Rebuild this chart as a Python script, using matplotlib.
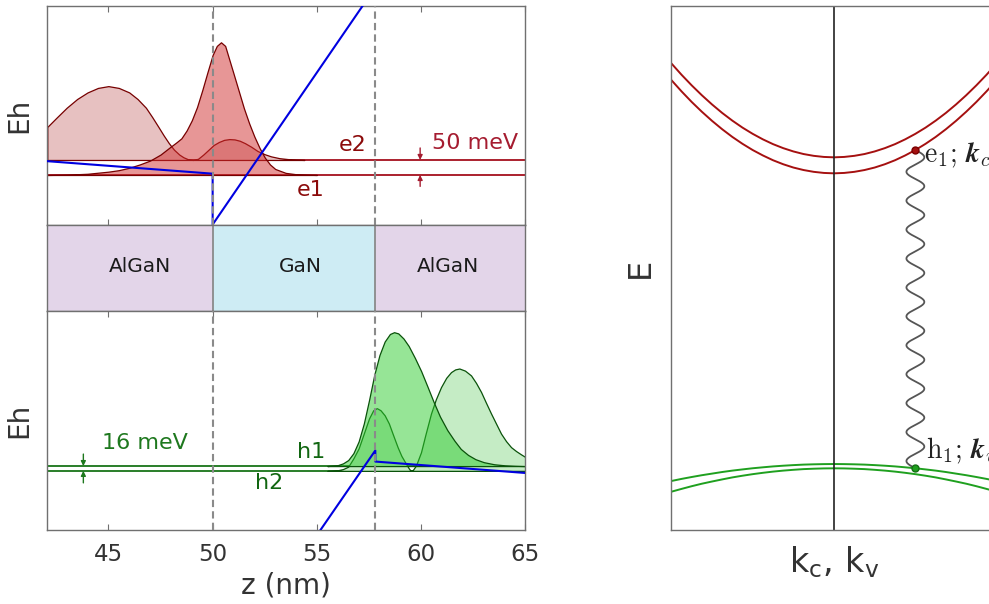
import numpy as np
import matplotlib.pyplot as plt

# --- layer structure (nm) ---
z_min, z_max = 42.07, 65.0
well_left, well_right = 50.0, 57.8
layer_names = ['AlGaN', 'GaN', 'AlGaN']
layer_label_z = [46.5, 54.2, 61.3]

# --- electrons (meV, e1 level = 0) ---
e1_level, e2_level = 0, 50
e1_z = [42.07, 43.0, 44.0, 45.0, 45.5, 46.0, 46.5, 47.0, 47.5, 48.0, 48.25, 48.5, 48.75,
        49.0, 49.25, 49.5, 49.75, 50.0, 50.2, 50.4, 50.6, 50.8, 51.0, 51.25, 51.5,
        51.75, 52.0, 52.25, 52.5, 52.75, 53.0, 53.5, 54.0, 54.5, 55.0]
e1_psi = [0, 1, 4, 11, 16, 24, 35, 48, 68, 95, 108, 122, 148,
          182, 226, 282, 342, 400, 430, 442, 430, 384, 338, 280, 222,
          172, 128, 90, 58, 35, 20, 7, 2.5, 1, 0]
e2_z = [42.07, 42.5, 43.0, 43.5, 44.0, 44.5, 45.0, 45.5, 46.0, 46.4, 46.8, 47.1, 47.4,
        47.65, 47.9, 48.15, 48.4, 48.6, 48.8, 49.06, 49.3, 49.55, 49.8, 50.05, 50.3,
        50.55, 50.8, 51.05, 51.3, 51.55, 51.85, 52.15, 52.5, 52.8, 53.2, 53.6, 54.0, 54.4]
e2_psi = [110, 140, 174, 203, 225, 240, 246, 240, 225, 203, 174, 143, 110,
          82, 56, 34, 18, 9, 3, 0, 4, 18, 34, 50, 60,
          67, 69.5, 68.5, 64, 56, 44, 30, 19, 12, 6, 3, 1, 0]
cb_z = [42.07, 50.0, 50.0, 57.8, 57.8, 65.0]
cb_E = [46, 4.3, -165, 625, 900, 860]

# --- holes (meV, h1 level = 0) ---
h1_level, h2_level = 0, -16
h1_z = [55.5, 56.0, 56.25, 56.5, 56.75, 57.0, 57.25, 57.5, 57.75, 58.0, 58.25, 58.5,
        58.7, 58.9, 59.15, 59.4, 59.7, 60.0, 60.3, 60.6, 60.9, 61.25, 61.6, 61.9,
        62.25, 62.6, 63.0, 63.5, 64.0, 64.5, 65.0]
h1_psi = [0, 3, 9, 20, 43, 82, 142, 220, 304, 370, 415, 440,
          446, 442, 425, 400, 360, 316, 265, 213, 165, 120, 84, 57,
          37, 23, 13, 6, 2.5, 1, 0]
h2_z = [55.5, 56.0, 56.25, 56.5, 56.75, 57.0, 57.25, 57.5, 57.7, 57.87, 58.05, 58.25,
        58.45, 58.65, 58.87, 59.05, 59.26, 59.4, 59.5, 59.6, 59.75, 59.99, 60.2, 60.47,
        60.7, 60.95, 61.2, 61.43, 61.63, 61.83, 62.1, 62.39, 62.63, 62.87, 63.1, 63.35,
        63.6, 63.83, 64.07, 64.31, 64.55, 64.79, 65.0]
h2_psi = [0, 2, 6, 14, 42, 75, 125, 175, 202, 209, 202, 185,
          158, 120, 79, 50, 25, 9, 0, 3, 18, 62, 120, 191,
          238, 279, 310, 329, 338, 341, 334, 318, 293, 263, 228, 191,
          156, 124, 99, 79, 66, 55, 46]
vb_z = [42.07, 50.0, 50.0, 57.8, 57.8, 65.0]
vb_E = [-1000, -1040, -734, 52, 15, -23]

# --- dispersion (arb. units) ---
k_vals = [-1, -0.9375, -0.875, -0.8125, -0.75, -0.6875, -0.625, -0.5625, -0.5,
          -0.4375, -0.375, -0.3125, -0.25, -0.1875, -0.125, -0.0625, 0,
          0.0625, 0.125, 0.1875, 0.25, 0.3125, 0.375, 0.4375, 0.5,
          0.5625, 0.625, 0.6875, 0.75, 0.8125, 0.875, 0.9375, 1]
c2_E = [466.7, 455.3, 444.7, 434.8, 425.6, 417.1, 409.4, 402.4, 396.2,
        390.7, 385.9, 381.9, 378.6, 376.0, 374.2, 373.1, 372.7,
        373.1, 374.2, 376.0, 378.6, 381.9, 385.9, 390.7, 396.2,
        402.4, 409.4, 417.1, 425.6, 434.8, 444.7, 455.3, 466.7]
c1_E = [450.0, 438.7, 428.1, 418.3, 409.2, 400.8, 393.1, 386.2, 380.0,
        374.6, 369.8, 365.8, 362.5, 360.0, 358.2, 357.1, 356.7,
        357.1, 358.2, 360.0, 362.5, 365.8, 369.8, 374.6, 380.0,
        386.2, 393.1, 400.8, 409.2, 418.3, 428.1, 438.7, 450.0]
v1_E = [49.0, 51.1, 53.0, 54.8, 56.4, 58.0, 59.4, 60.6, 61.75,
        62.7, 63.6, 64.3, 64.9, 65.4, 65.7, 65.9, 66.0,
        65.9, 65.7, 65.4, 64.9, 64.3, 63.6, 62.7, 61.75,
        60.6, 59.4, 58.0, 56.4, 54.8, 53.0, 51.1, 49.0]
v2_E = [38.3, 41.1, 43.8, 46.3, 48.5, 50.6, 52.6, 54.3, 55.85,
        57.2, 58.4, 59.4, 60.2, 60.9, 61.3, 61.6, 61.7,
        61.6, 61.3, 60.9, 60.2, 59.4, 58.4, 57.2, 55.85,
        54.3, 52.6, 50.6, 48.5, 46.3, 43.8, 41.1, 38.3]
i_trans = 24  # k = 0.5

red_line = '#a50f1e'
red_dark = '#760000'
green_line = '#187418'
green_dark = '#0a520a'
blue = '#0000e0'
spine_c = '#707070'
txt_c = '#333333'
dash = (0, (3.5, 2))

fig = plt.figure(figsize=(9.89, 6.04), dpi=100)
ax_e = fig.add_axes([0.0478, 0.6283, 0.4835, 0.3618])
ax_l = fig.add_axes([0.0478, 0.4843, 0.4835, 0.1440])
ax_h = fig.add_axes([0.0478, 0.1225, 0.4835, 0.3618])
ax_k = fig.add_axes([0.6788, 0.1225, 0.3290, 0.8675])

for ax in (ax_e, ax_l, ax_h, ax_k):
    for s in ax.spines.values():
        s.set_color(spine_c)
        s.set_linewidth(1.0)

# electrons
ax_e.plot([z_min, z_max], [e1_level] * 2, color=red_line, lw=1.3, zorder=1)
ax_e.plot([z_min, z_max], [e2_level] * 2, color=red_line, lw=1.3, zorder=1)
ax_e.fill_between(e2_z, e2_level, e2_level + np.array(e2_psi),
                  facecolor='#e7c1c1', edgecolor=red_dark, lw=0.9, zorder=2)
ax_e.fill_between(e1_z, e1_level, e1_level + np.array(e1_psi),
                  facecolor=(0.82, 0.18, 0.18, 0.5), edgecolor=red_dark, lw=0.9, zorder=2.1)
ax_e.plot(cb_z, cb_E, color=blue, lw=1.5, zorder=3)
ax_e.text(56.7, 99, 'e2', color='#8b0a0a', fontsize=16, ha='center', va='center')
ax_e.text(54.7, -50, 'e1', color='#8b0a0a', fontsize=16, ha='center', va='center')
ax_e.text(60.5, 107, '50 meV', color='#a51c30', fontsize=16, ha='left', va='center')
arr = dict(arrowstyle='-|>', color='#a51c30', lw=1, mutation_scale=7, shrinkA=0, shrinkB=0)
ax_e.annotate('', xy=(59.95, e2_level), xytext=(59.95, 90), arrowprops=arr)
ax_e.annotate('', xy=(59.95, e1_level), xytext=(59.95, -38), arrowprops=arr)
ax_e.set_ylim(-165, 563)
ax_e.set_ylabel('Eh', fontsize=20, labelpad=10, color=txt_c)

# layers
layer_bounds = [z_min, well_left, well_right, z_max]
layer_colors = ['#e3d5e9', '#ceecf4', '#e3d5e9']
for i in range(3):
    ax_l.axvspan(layer_bounds[i], layer_bounds[i + 1], color=layer_colors[i], lw=0)
    ax_l.text(layer_label_z[i], 0.52, layer_names[i], fontsize=14.5, color='#1a1a1a',
              ha='center', va='center', transform=ax_l.get_xaxis_transform())
for zb in (well_left, well_right):
    ax_l.axvline(zb, color='#8a8a8a', lw=1.3)
ax_l.set_yticks([])
ax_l.set_xticks([])

# holes
ax_h.plot([z_min, z_max], [h1_level] * 2, color=green_line, lw=1.3, zorder=1)
ax_h.plot([z_min, z_max], [h2_level] * 2, color=green_line, lw=1.3, zorder=1)
ax_h.fill_between(h2_z, h2_level, h2_level + np.array(h2_psi),
                  facecolor='#c5ecc5', edgecolor=green_dark, lw=0.9, zorder=2)
ax_h.fill_between(h1_z, h1_level, h1_level + np.array(h1_psi),
                  facecolor=(0.18, 0.8, 0.18, 0.5), edgecolor=green_dark, lw=0.9, zorder=2.1)
ax_h.plot(vb_z, vb_E, color=blue, lw=1.5, zorder=3)
ax_h.text(54.71, 48, 'h1', color='#116611', fontsize=16, ha='center', va='center')
ax_h.text(52.72, -56, 'h2', color='#116611', fontsize=16, ha='center', va='center')
ax_h.text(44.68, 78, '16 meV', color='#1e781e', fontsize=16, ha='left', va='center')
arr_g = dict(arrowstyle='-|>', color='#1e781e', lw=1, mutation_scale=7, shrinkA=0, shrinkB=0)
ax_h.annotate('', xy=(43.8, h1_level), xytext=(43.8, 40), arrowprops=arr_g)
ax_h.annotate('', xy=(43.8, h2_level), xytext=(43.8, -56), arrowprops=arr_g)
ax_h.set_ylim(-213, 515)
ax_h.set_ylabel('Eh', fontsize=20, labelpad=10, color=txt_c)
ax_h.set_xlabel('z (nm)', fontsize=20, labelpad=4, color=txt_c)

for ax in (ax_e, ax_l, ax_h):
    ax.set_xlim(z_min, z_max)
for ax in (ax_e, ax_h):
    for zb in (well_left, well_right):
        ax.axvline(zb, color='#8a8a8a', lw=1.5, ls=dash, zorder=4)
    ax.set_yticks([])
    ax.set_xticks([45, 50, 55, 60, 65])
    ax.tick_params(axis='x', direction='in', top=True, bottom=True, length=4.5,
                   color=spine_c, labelsize=16.5, labelcolor=txt_c, pad=9)
ax_e.tick_params(axis='x', labelbottom=False)

# dispersion
ax_k.plot(k_vals, c2_E, color='#a51010', lw=1.4)
ax_k.plot(k_vals, c1_E, color='#a51010', lw=1.4)
ax_k.plot(k_vals, v1_E, color='#1fa01f', lw=1.4)
ax_k.plot(k_vals, v2_E, color='#1fa01f', lw=1.4)
ax_k.axvline(0, color='#222222', lw=1.2)

k0 = k_vals[i_trans]
E_top, E_bot = c1_E[i_trans], v1_E[i_trans]
t = np.linspace(0, 1, 800)
ax_k.plot(k0 + 0.055 * np.sin(2 * np.pi * 11 * t), E_top + (E_bot - E_top) * t,
          color='#555555', lw=1.3, zorder=3)
ax_k.plot(k0, E_top, 'o', ms=5, color='#a51010', mec='#7a0000', zorder=4)
ax_k.plot(k0, E_bot, 'o', ms=5, color='#1fa01f', mec='#147014', zorder=4)
ax_k.text(k0 + 0.05, E_top - 5, r'$\mathrm{e}_1;\, \mathbfit{k}_c$', math_fontfamily='cm',
          fontsize=20, color='#222222', ha='left', va='center')
ax_k.text(k0 + 0.066, E_bot + 17, r'$\mathrm{h}_1;\, \mathbfit{k}_v$', math_fontfamily='cm',
          fontsize=20, color='#222222', ha='left', va='center')
ax_k.set_xlim(-1, 1)
ax_k.set_ylim(0, 524)
ax_k.set_xticks([])
ax_k.set_yticks([])
ax_k.set_ylabel('E', fontsize=23, labelpad=11, color=txt_c)
ax_k.set_xlabel(r'$\mathregular{k_c,\,k_v}$', fontsize=24, labelpad=10, color=txt_c)

fig.savefig('out.png', dpi=100)
